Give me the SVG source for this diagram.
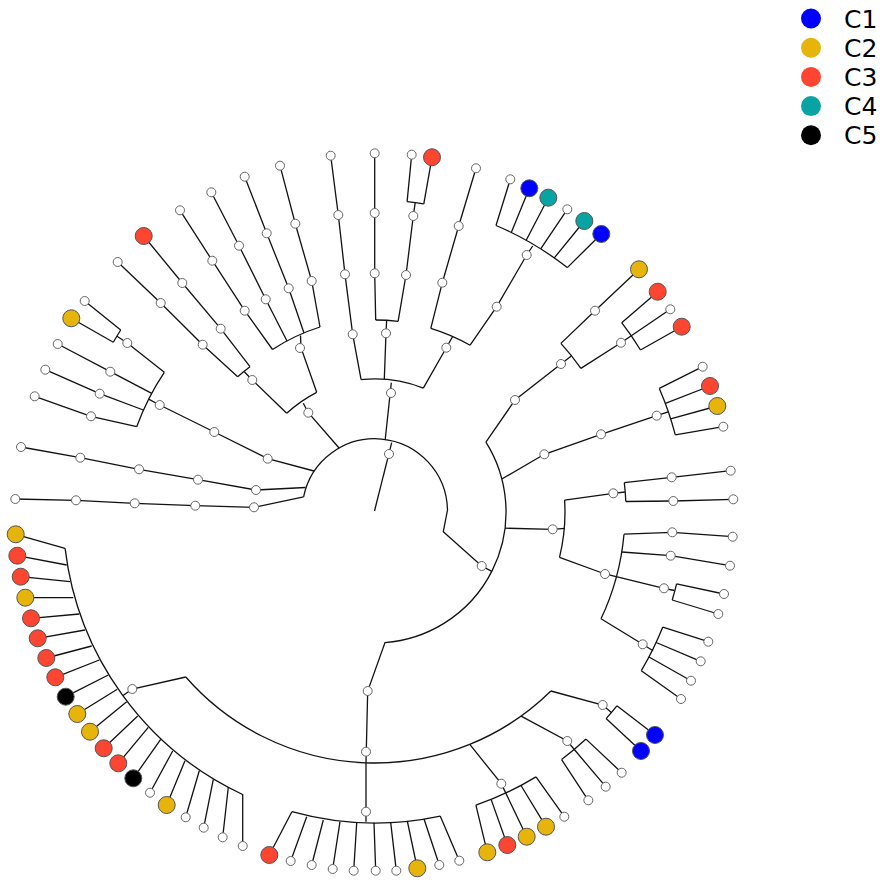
<svg xmlns="http://www.w3.org/2000/svg" width="886" height="884" viewBox="0 0 886 884">
<style>
.e{fill:none;stroke:#111;stroke-width:1.3;stroke-linejoin:miter}
.w{fill:#fff;stroke:#666;stroke-width:1}
.k{stroke:#555;stroke-width:1}
.bl{fill:#0000ff}.ye{fill:#e6b40a}.re{fill:#fd4631}.te{fill:#0aa3a3}.bk{fill:#000}
.lg{font-family:"DejaVu Sans","Liberation Sans",sans-serif;font-size:25px;fill:#000}
</style>
<rect width="886" height="884" fill="#fff"/>
<g id="connectors" class="e">
<path d="M374.5,511 L391.7,442.7"/>
<path d="M303.6,496.8 A72.7,72.7 0 0 1 447.5,510 L443.3,531.7 L481.7,566 L491.8,571.3"/>
<path d="M303.6,496.8 L254,507.3 L195.3,505.7 L134.7,503.3 L76,500.3 L15.3,499"/>
<path d="M305.5,487.5 L256,490 L198,479.7 L139,469.3 L80.3,457.7 L21,447"/>
<path d="M314,471 L267.7,458.7 L214.3,432 L159.7,405 L148.6,399.1"/>
<path d="M136.7,426.7 A253,253 0 0 1 164.3,372.3"/>
<path d="M136.7,426.7 L91,416.3 L34.7,396.3"/>
<path d="M143.3,410 L99.7,393.7 L45.3,369.7"/>
<path d="M151.7,393.3 L110.3,371.7 L57.7,344"/>
<path d="M164.3,372.3 L127.3,343 L117,336.3"/>
<path d="M113.3,342.3 A312,312 0 0 1 120.7,330"/>
<path d="M113.3,342.3 L71.3,318.3"/>
<path d="M120.7,330 L84.7,301"/>
<path d="M339.3,448.3 L308.3,412.7 L303.3,403.3"/>
<path d="M286.7,413.3 A133,133 0 0 1 316.7,392.3"/>
<path d="M286.7,413.3 L252.3,380 L244.3,371.8"/>
<path d="M237.7,376.7 A192,192 0 0 1 250,366.7"/>
<path d="M237.7,376.7 L202.7,344.7 L160.7,303 L117.7,262"/>
<path d="M250,366.7 L220.7,328.7 L182.3,283 L143.7,236"/>
<path d="M316.7,392.3 L301,347.7 L300.5,335.5"/>
<path d="M272.5,349.5 A192,192 0 0 1 320,327"/>
<path d="M272.5,349.5 L244.7,310.7 L212.3,260.7 L180,210.3"/>
<path d="M287,341 L265.7,299.3 L239,245.7 L211.3,192.3"/>
<path d="M304,333 L288.7,288.3 L266.7,233.3 L244.7,176.7"/>
<path d="M320,327 L311.7,281 L295.3,223.7 L280,165.7"/>
<path d="M385.2,439.7 L391.3,382.7"/>
<path d="M361.1,379.7 A133,133 0 0 1 423.3,388.1"/>
<path d="M361.1,379.7 L352.7,334.3 L345,274.3 L338.3,215 L330.7,155.7"/>
<path d="M384.3,379.3 L386,333.3 L386.6,320.8"/>
<path d="M375.7,320 A192,192 0 0 1 398.1,321.4"/>
<path d="M375.7,320 L374.7,273.3 L374.7,213 L374.7,153.3"/>
<path d="M398.1,321.4 L406,275 L413.3,216 L415.2,202.6"/>
<path d="M407.1,201.6 A312,312 0 0 1 423.8,203.8"/>
<path d="M407.1,201.6 L411.7,154.7"/>
<path d="M423.8,203.8 L432,157.3"/>
<path d="M423.3,388.1 L446.3,347.7 L452.8,336.2"/>
<path d="M430.8,328.3 A192,192 0 0 1 470.1,345.2"/>
<path d="M430.8,328.3 L442.3,282.7 L458.7,226 L476,168.3"/>
<path d="M470.1,345.2 L496.7,306.7 L526.7,255 L532.7,246"/>
<path d="M496,225.5 A311,311 0 0 1 567.3,267.6"/>
<path d="M496,225.5 L510.3,179.3 M511.3,232.5 L529.3,188.3 M526.2,240.2 L548.3,197.7 M540.7,248.8 L567.3,209.3 M554.3,257.9 L584.3,221 M567.3,267.6 L601.3,234"/>
<path d="M485.9,442.2 A131,131 0 0 1 385,642.6 L367.7,691 L366,762.7 L366,821.7"/>
<path d="M485.9,442.2 L515,400 L561,364 L571.3,356"/>
<path d="M560.9,343.4 A251,251 0 0 1 580.9,368.4"/>
<path d="M560.9,343.4 L595,310.7 L639,269.3"/>
<path d="M580.9,368.4 L621,342.7 L670.3,309.3"/>
<path d="M621.7,322.7 A311,311 0 0 1 640.5,350"/>
<path d="M621.7,322.7 L657.7,291.7 M640.5,350 L681.7,326.7"/>
<path d="M501.8,479 L544.3,454.3 L601,434.3 L656.7,415.7 L668.3,411.8"/>
<path d="M659.3,388.4 A310,310 0 0 1 675.3,434.9"/>
<path d="M659.3,388.4 L702.7,366.7 M665.4,403.4 L710,386 M670.6,418.8 L717.3,406 M675.3,434.9 L723.3,426.7"/>
<path d="M505,528.2 L552.7,529.3 L565,528.3"/>
<path d="M564.6,500.1 A190,190 0 0 1 559.5,557.3"/>
<path d="M564.6,500.1 L613.3,493.3 L624.9,492"/>
<path d="M624.3,482.7 A251,251 0 0 1 625.8,501.5"/>
<path d="M624.3,482.7 L671.7,477.3 L730.7,470.7"/>
<path d="M625.8,501.5 L673.3,501 L733.3,499.3"/>
<path d="M559.5,557.3 L605,574 L664,588.3 L674.5,590.5"/>
<path d="M624,534.2 A250,250 0 0 1 601,618.8"/>
<path d="M624,534.2 L672.3,532.3 L732.7,536.7"/>
<path d="M621.8,552 L670.7,555.7 L730,565.7"/>
<path d="M676.6,583.8 A310,310 0 0 1 672.2,600"/>
<path d="M676.6,583.8 L724,594 M672.2,600 L718.3,614"/>
<path d="M601,618.8 L642.7,644.3 L653,650.7"/>
<path d="M662.8,627.1 A310,310 0 0 1 641.3,670.7"/>
<path d="M662.8,627.1 L708.3,641.7 M656.2,642.5 L700.7,661.3 M649,657 L691,680.7 M641.3,670.7 L681,699"/>
<path d="M550.9,691 A251,251 0 0 1 185.8,677"/>
<path d="M185.8,677 L132.3,689 L123,695.5"/>
<path d="M242.6,794.5 A312.5,312.5 0 0 1 65.1,548.4"/>
<path d="M65,548.3 L15.7,534.3 M66.7,565 L17.3,555.7 M70,581.7 L20.7,576.7 M73.3,597.7 L25.3,597.7 M79.3,614 L31,618.3 M85,630 L37.7,638.3 M91.7,646 L46.3,658 M99.3,660 L55.3,677.3 M108.3,675 L65.7,696.7 M117.3,689.3 L77.3,714 M126.7,701.7 L90,731.7 M137.7,716 L103.7,748.3 M148.3,727.3 L118.3,763.3 M160.7,739.3 L133.3,778.3 M172.7,751 L150,792.7 M185,760.7 L166.7,805 M199.3,770.7 L185.7,817.3 M213.3,779.3 L203.7,827.7 M228.3,787.3 L222.7,837.3 M242.7,794 L242.7,846"/>
<path d="M440.2,816.1 A311,311 0 0 1 291.9,811.7"/>
<path d="M291.9,811.7 L269.3,855 M306.7,816.7 L290.7,861 M323.3,820 L311.7,865 M340,821.7 L332.7,869 M356.7,822.7 L353.7,870.7 M374,822.7 L375.7,870.7 M390.7,822.7 L396.3,870.7 M407.3,821 L417.3,868.3 M424,819 L439.3,865 M440.2,816.1 L459.3,860.7"/>
<path d="M469.8,744.4 L501.3,783.7 L505.8,793.1"/>
<path d="M536,776.9 A310,310 0 0 1 475.9,805.1"/>
<path d="M475.9,805.1 L487.3,852.3 M491.1,799.4 L507.3,845 M505.8,793.1 L526.7,836.7 M521,785.5 L546,826.7 M536,776.9 L564.3,816.7"/>
<path d="M521.1,716.1 L567.3,741 L574.3,749.5"/>
<path d="M586,739.1 A310,310 0 0 1 561.6,759.6"/>
<path d="M561.6,759.6 L588.3,800.3 M574.3,749.5 L605.7,786.7 M586,739.1 L621.7,772.7"/>
<path d="M550.9,691 L602.7,705 L611.4,712.5"/>
<path d="M616.9,705.8 A310,310 0 0 1 606.1,718.6"/>
<path d="M616.9,705.8 L655,735 M606.1,718.6 L641,751"/>
</g>
<g id="nodes">
<g id="root"><circle class="w" cx="389" cy="454" r="4.5"/></g>
<g id="a1_1"><circle class="w" cx="254" cy="507.3" r="4.5"/></g>
<g id="a1_2"><circle class="w" cx="195.3" cy="505.7" r="4.5"/></g>
<g id="a1_3"><circle class="w" cx="134.7" cy="503.3" r="4.5"/></g>
<g id="a1_4"><circle class="w" cx="76" cy="500.3" r="4.5"/></g>
<g id="a1_leaf"><circle class="w" cx="15.3" cy="499" r="4.5"/></g>
<g id="a2_1"><circle class="w" cx="256" cy="490" r="4.5"/></g>
<g id="a2_2"><circle class="w" cx="198" cy="479.7" r="4.5"/></g>
<g id="a2_3"><circle class="w" cx="139" cy="469.3" r="4.5"/></g>
<g id="a2_4"><circle class="w" cx="80.3" cy="457.7" r="4.5"/></g>
<g id="a2_leaf"><circle class="w" cx="21" cy="447" r="4.5"/></g>
<g id="a3_1"><circle class="w" cx="267.7" cy="458.7" r="4.5"/></g>
<g id="a3_2"><circle class="w" cx="214.3" cy="432" r="4.5"/></g>
<g id="a3_3"><circle class="w" cx="159.7" cy="405" r="4.5"/></g>
<g id="a3_4"><circle class="w" cx="91" cy="416.3" r="4.5"/></g>
<g id="a3_l1"><circle class="w" cx="34.7" cy="396.3" r="4.5"/></g>
<g id="a3_5"><circle class="w" cx="99.7" cy="393.7" r="4.5"/></g>
<g id="a3_l2"><circle class="w" cx="45.3" cy="369.7" r="4.5"/></g>
<g id="a3_6"><circle class="w" cx="110.3" cy="371.7" r="4.5"/></g>
<g id="a3_l3"><circle class="w" cx="57.7" cy="344" r="4.5"/></g>
<g id="a3_7"><circle class="w" cx="127.3" cy="343" r="4.5"/></g>
<g id="a3_l4"><circle class="k ye" cx="71.3" cy="318.3" r="8.5"/></g>
<g id="a3_l5"><circle class="w" cx="84.7" cy="301" r="4.5"/></g>
<g id="a4_1"><circle class="w" cx="308.3" cy="412.7" r="4.5"/></g>
<g id="a4_2"><circle class="w" cx="252.3" cy="380" r="4.5"/></g>
<g id="a4_3"><circle class="w" cx="202.7" cy="344.7" r="4.5"/></g>
<g id="a4_4"><circle class="w" cx="160.7" cy="303" r="4.5"/></g>
<g id="a4_l1"><circle class="w" cx="117.7" cy="262" r="4.5"/></g>
<g id="a4_5"><circle class="w" cx="220.7" cy="328.7" r="4.5"/></g>
<g id="a4_6"><circle class="w" cx="182.3" cy="283" r="4.5"/></g>
<g id="a4_l2"><circle class="k re" cx="143.7" cy="236" r="8.5"/></g>
<g id="a4_7"><circle class="w" cx="300" cy="348" r="4.5"/></g>
<g id="a4_8"><circle class="w" cx="244.7" cy="310.7" r="4.5"/></g>
<g id="a4_9"><circle class="w" cx="212.3" cy="260.7" r="4.5"/></g>
<g id="a4_l3"><circle class="w" cx="180" cy="210.3" r="4.5"/></g>
<g id="a4_10"><circle class="w" cx="265.7" cy="299.3" r="4.5"/></g>
<g id="a4_11"><circle class="w" cx="239" cy="245.7" r="4.5"/></g>
<g id="a4_l4"><circle class="w" cx="211.3" cy="192.3" r="4.5"/></g>
<g id="a4_12"><circle class="w" cx="288.7" cy="288.3" r="4.5"/></g>
<g id="a4_13"><circle class="w" cx="266.7" cy="233.3" r="4.5"/></g>
<g id="a4_l5"><circle class="w" cx="244.7" cy="176.7" r="4.5"/></g>
<g id="a4_14"><circle class="w" cx="311.7" cy="281" r="4.5"/></g>
<g id="a4_15"><circle class="w" cx="295.3" cy="223.7" r="4.5"/></g>
<g id="a4_l6"><circle class="w" cx="280" cy="165.7" r="4.5"/></g>
<g id="t_1"><circle class="w" cx="391" cy="393" r="4.5"/></g>
<g id="t_2"><circle class="w" cx="352.7" cy="334.3" r="4.5"/></g>
<g id="t_3"><circle class="w" cx="345" cy="274.3" r="4.5"/></g>
<g id="t_4"><circle class="w" cx="338.3" cy="215" r="4.5"/></g>
<g id="t_l1"><circle class="w" cx="330.7" cy="155.7" r="4.5"/></g>
<g id="t_5"><circle class="w" cx="386" cy="333.3" r="4.5"/></g>
<g id="t_6"><circle class="w" cx="374.7" cy="273.3" r="4.5"/></g>
<g id="t_7"><circle class="w" cx="374.7" cy="213" r="4.5"/></g>
<g id="t_l2"><circle class="w" cx="374.7" cy="153.3" r="4.5"/></g>
<g id="t_8"><circle class="w" cx="406" cy="275" r="4.5"/></g>
<g id="t_9"><circle class="w" cx="413.3" cy="216" r="4.5"/></g>
<g id="t_l3"><circle class="w" cx="411.7" cy="154.7" r="4.5"/></g>
<g id="t_l4"><circle class="k re" cx="432" cy="157.3" r="8.5"/></g>
<g id="t_10"><circle class="w" cx="446.3" cy="347.7" r="4.5"/></g>
<g id="t_11"><circle class="w" cx="442.3" cy="282.7" r="4.5"/></g>
<g id="t_12"><circle class="w" cx="458.7" cy="226" r="4.5"/></g>
<g id="t_l5"><circle class="w" cx="476" cy="168.3" r="4.5"/></g>
<g id="t_13"><circle class="w" cx="496.7" cy="306.7" r="4.5"/></g>
<g id="t_14"><circle class="w" cx="526.7" cy="255" r="4.5"/></g>
<g id="t_l6"><circle class="w" cx="510.3" cy="179.3" r="4.5"/></g>
<g id="t_l7"><circle class="k bl" cx="529.3" cy="188.3" r="8.5"/></g>
<g id="t_l8"><circle class="k te" cx="548.3" cy="197.7" r="8.5"/></g>
<g id="t_l9"><circle class="w" cx="567.3" cy="209.3" r="4.5"/></g>
<g id="t_l10"><circle class="k te" cx="584.3" cy="221" r="8.5"/></g>
<g id="t_l11"><circle class="k bl" cx="601.3" cy="234" r="8.5"/></g>
<g id="ab_1"><circle class="w" cx="481.7" cy="566" r="4.5"/></g>
<g id="b1_1"><circle class="w" cx="515" cy="400" r="4.5"/></g>
<g id="b1_2"><circle class="w" cx="561" cy="364" r="4.5"/></g>
<g id="b1_3"><circle class="w" cx="595" cy="310.7" r="4.5"/></g>
<g id="b1_l1"><circle class="k ye" cx="639" cy="269.3" r="8.5"/></g>
<g id="b1_4"><circle class="w" cx="621" cy="342.7" r="4.5"/></g>
<g id="b1_l2"><circle class="k re" cx="657.7" cy="291.7" r="8.5"/></g>
<g id="b1_l3"><circle class="w" cx="670.3" cy="309.3" r="4.5"/></g>
<g id="b1_l4"><circle class="k re" cx="681.7" cy="326.7" r="8.5"/></g>
<g id="b2_1"><circle class="w" cx="544.3" cy="454.3" r="4.5"/></g>
<g id="b2_2"><circle class="w" cx="601" cy="434.3" r="4.5"/></g>
<g id="b2_3"><circle class="w" cx="656.7" cy="415.7" r="4.5"/></g>
<g id="b2_l1"><circle class="w" cx="702.7" cy="366.7" r="4.5"/></g>
<g id="b2_l2"><circle class="k re" cx="710" cy="386" r="8.5"/></g>
<g id="b2_l3"><circle class="k ye" cx="717.3" cy="406" r="8.5"/></g>
<g id="b2_l4"><circle class="w" cx="723.3" cy="426.7" r="4.5"/></g>
<g id="b3_1"><circle class="w" cx="552.7" cy="529.3" r="4.5"/></g>
<g id="b3_2"><circle class="w" cx="613.3" cy="493.3" r="4.5"/></g>
<g id="b3_3"><circle class="w" cx="671.7" cy="477.3" r="4.5"/></g>
<g id="b3_l1"><circle class="w" cx="730.7" cy="470.7" r="4.5"/></g>
<g id="b3_4"><circle class="w" cx="673.3" cy="501" r="4.5"/></g>
<g id="b3_l2"><circle class="w" cx="733.3" cy="499.3" r="4.5"/></g>
<g id="b3_5"><circle class="w" cx="605" cy="574" r="4.5"/></g>
<g id="b3_6"><circle class="w" cx="672.3" cy="532.3" r="4.5"/></g>
<g id="b3_l3"><circle class="w" cx="732.7" cy="536.7" r="4.5"/></g>
<g id="b3_7"><circle class="w" cx="670.7" cy="555.7" r="4.5"/></g>
<g id="b3_l4"><circle class="w" cx="730" cy="565.7" r="4.5"/></g>
<g id="b3_8"><circle class="w" cx="664" cy="588.3" r="4.5"/></g>
<g id="b3_l5"><circle class="w" cx="724" cy="594" r="4.5"/></g>
<g id="b3_l6"><circle class="w" cx="718.3" cy="614" r="4.5"/></g>
<g id="b3_9"><circle class="w" cx="642.7" cy="644.3" r="4.5"/></g>
<g id="b3_l7"><circle class="w" cx="708.3" cy="641.7" r="4.5"/></g>
<g id="b3_l8"><circle class="w" cx="700.7" cy="661.3" r="4.5"/></g>
<g id="b3_l9"><circle class="w" cx="691" cy="680.7" r="4.5"/></g>
<g id="b3_l10"><circle class="w" cx="681" cy="699" r="4.5"/></g>
<g id="c_1"><circle class="w" cx="367.7" cy="691" r="4.5"/></g>
<g id="c_2"><circle class="w" cx="366" cy="751.7" r="4.5"/></g>
<g id="c_3"><circle class="w" cx="366" cy="811.7" r="4.5"/></g>
<g id="d_0"><circle class="w" cx="132.3" cy="689" r="4.5"/></g>
<g id="d_l1"><circle class="k ye" cx="15.7" cy="534.3" r="8.5"/></g>
<g id="d_l2"><circle class="k re" cx="17.3" cy="555.7" r="8.5"/></g>
<g id="d_l3"><circle class="k re" cx="20.7" cy="576.7" r="8.5"/></g>
<g id="d_l4"><circle class="k ye" cx="25.3" cy="597.7" r="8.5"/></g>
<g id="d_l5"><circle class="k re" cx="31" cy="618.3" r="8.5"/></g>
<g id="d_l6"><circle class="k re" cx="37.7" cy="638.3" r="8.5"/></g>
<g id="d_l7"><circle class="k re" cx="46.3" cy="658" r="8.5"/></g>
<g id="d_l8"><circle class="k re" cx="55.3" cy="677.3" r="8.5"/></g>
<g id="d_l9"><circle class="k bk" cx="65.7" cy="696.7" r="8.5"/></g>
<g id="d_l10"><circle class="k ye" cx="77.3" cy="714" r="8.5"/></g>
<g id="d_l11"><circle class="k ye" cx="90" cy="731.7" r="8.5"/></g>
<g id="d_l12"><circle class="k re" cx="103.7" cy="748.3" r="8.5"/></g>
<g id="d_l13"><circle class="k re" cx="118.3" cy="763.3" r="8.5"/></g>
<g id="d_l14"><circle class="k bk" cx="133.3" cy="778.3" r="8.5"/></g>
<g id="d_l15"><circle class="w" cx="150" cy="792.7" r="4.5"/></g>
<g id="d_l16"><circle class="k ye" cx="166.7" cy="805" r="8.5"/></g>
<g id="d_l17"><circle class="w" cx="185.7" cy="817.3" r="4.5"/></g>
<g id="d_l18"><circle class="w" cx="203.7" cy="827.7" r="4.5"/></g>
<g id="d_l19"><circle class="w" cx="222.7" cy="837.3" r="4.5"/></g>
<g id="d_l20"><circle class="w" cx="242.7" cy="846" r="4.5"/></g>
<g id="e_l1"><circle class="k re" cx="269.3" cy="855" r="8.5"/></g>
<g id="e_l2"><circle class="w" cx="290.7" cy="861" r="4.5"/></g>
<g id="e_l3"><circle class="w" cx="311.7" cy="865" r="4.5"/></g>
<g id="e_l4"><circle class="w" cx="332.7" cy="869" r="4.5"/></g>
<g id="e_l5"><circle class="w" cx="353.7" cy="870.7" r="4.5"/></g>
<g id="e_l6"><circle class="w" cx="375.7" cy="870.7" r="4.5"/></g>
<g id="e_l7"><circle class="w" cx="396.3" cy="870.7" r="4.5"/></g>
<g id="e_l8"><circle class="k ye" cx="417.3" cy="868.3" r="8.5"/></g>
<g id="e_l9"><circle class="w" cx="439.3" cy="865" r="4.5"/></g>
<g id="e_l10"><circle class="w" cx="459.3" cy="860.7" r="4.5"/></g>
<g id="f_0"><circle class="w" cx="501.3" cy="783.7" r="4.5"/></g>
<g id="f_l1"><circle class="k ye" cx="487.3" cy="852.3" r="8.5"/></g>
<g id="f_l2"><circle class="k re" cx="507.3" cy="845" r="8.5"/></g>
<g id="f_l3"><circle class="k ye" cx="526.7" cy="836.7" r="8.5"/></g>
<g id="f_l4"><circle class="k ye" cx="546" cy="826.7" r="8.5"/></g>
<g id="f_l5"><circle class="w" cx="564.3" cy="816.7" r="4.5"/></g>
<g id="g_0"><circle class="w" cx="567.3" cy="741" r="4.5"/></g>
<g id="g_l1"><circle class="w" cx="588.3" cy="800.3" r="4.5"/></g>
<g id="g_l2"><circle class="w" cx="605.7" cy="786.7" r="4.5"/></g>
<g id="g_l3"><circle class="w" cx="621.7" cy="772.7" r="4.5"/></g>
<g id="h_0"><circle class="w" cx="602.7" cy="705" r="4.5"/></g>
<g id="h_l1"><circle class="k bl" cx="655" cy="735" r="8.5"/></g>
<g id="h_l2"><circle class="k bl" cx="641" cy="751" r="8.5"/></g>
</g>
<g id="legend">
<circle class="bl" cx="811" cy="18.5" r="10"/><text class="lg" x="844" y="27.5">C1</text>
<circle class="ye" cx="811" cy="47.7" r="10"/><text class="lg" x="844" y="56.7">C2</text>
<circle class="re" cx="811" cy="76.9" r="10"/><text class="lg" x="844" y="85.9">C3</text>
<circle class="te" cx="811" cy="106.1" r="10"/><text class="lg" x="844" y="115.1">C4</text>
<circle class="bk" cx="811" cy="135.3" r="10"/><text class="lg" x="844" y="144.3">C5</text>
</g>
</svg>
